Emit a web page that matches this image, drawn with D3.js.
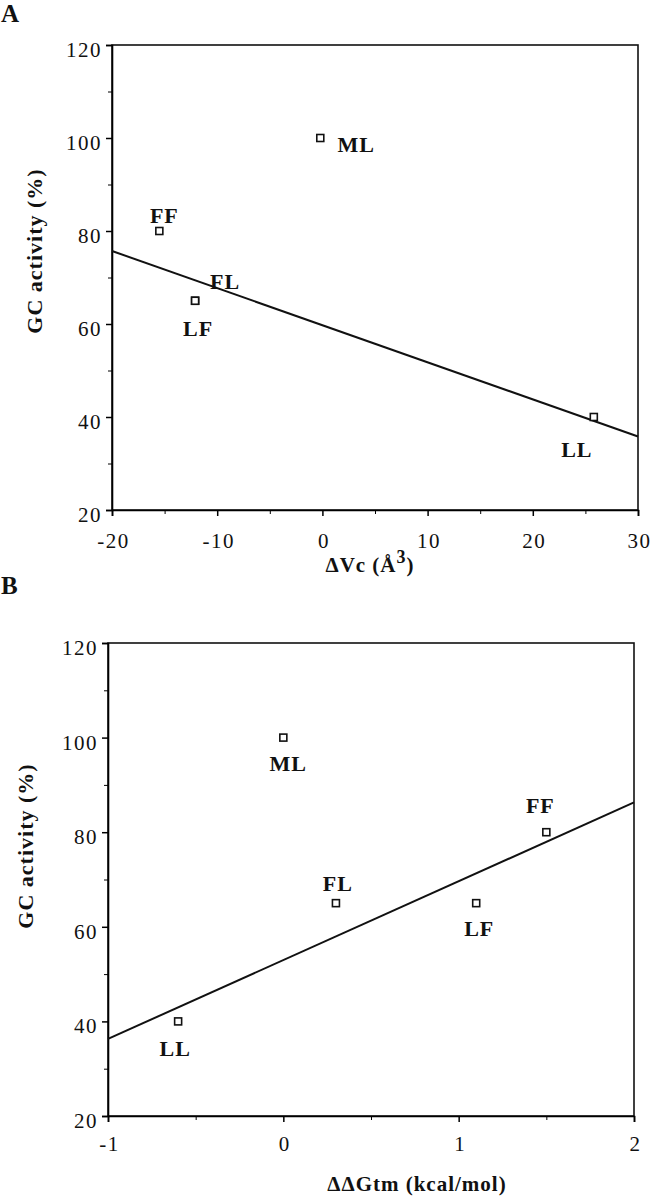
<!DOCTYPE html>
<html><head><meta charset="utf-8">
<script src="https://cdn.jsdelivr.net/npm/d3@7"></script>
<style>
html,body{margin:0;padding:0;background:#fff;}
svg{display:block;}
text{font-family:"Liberation Serif","Times New Roman",serif;fill:#111;}
</style></head>
<body>
<script>
// ---------- data ----------
const mutants = ["FF", "ML", "FL", "LF", "LL"];
const activity = [80, 100, 65, 65, 40];            // GC activity (%)
const deltaVc = [-15.5, -0.2, -12.1, -12.1, 25.8];  // ΔVc (Å^3)
const ddGtm = [1.5, 0.0, 0.3, 1.1, -0.6];           // ΔΔGtm (kcal/mol)
const fitA_x = [-20, 30];
const fitA_y = [75.7, 35.8];
const fitB_x = [-1, 2];
const fitB_y = [36.3, 86.3];
const yTicks = [20, 40, 60, 80, 100, 120];
const yMinor = [30, 50, 70, 90, 110];
const xTicksA = [-20, -10, 0, 10, 20, 30];
const xMinorA = [-15, -5, 5, 15, 25];
const xTicksB = [-1, 0, 1, 2];
const xMinorB = [-0.5, 0.5, 1.5];

// label placement (layout: px offsets of label centre/baseline from marker centre)
const labelOffA = {FF:[4,-8], ML:[35,14], FL:[29,-12], LF:[2,35], LL:[-18,40]};
const labelOffB = {FF:[-7,-19], ML:[4,33], FL:[1,-12], LF:[2,33], LL:[-4,35]};

const W = 655, H = 1199;
const svg = d3.select("body").append("svg").attr("width", W).attr("height", H);
const fmt = d => String(d);

function panel(cfg) {
  const g = svg.append("g");
  const x = d3.scaleLinear().domain(cfg.xDomain).range(cfg.xRange);
  const y = d3.scaleLinear().domain([20, 120]).range(cfg.yRange);
  const [x0, x1] = cfg.xRange, [y0, y1] = cfg.yRange;

  // frame
  g.append("rect").attr("x", x0).attr("y", y1).attr("width", x1 - x0).attr("height", y0 - y1)
    .attr("fill", "none").attr("stroke", "#111").attr("stroke-width", 1.6);

  // y axis
  const ya = g.append("g").attr("transform", `translate(${x0},0)`)
    .call(d3.axisLeft(y).tickValues(cfg.yTicks).tickSize(6).tickPadding(4).tickFormat(fmt));
  ya.select(".domain").attr("stroke-width", 1.6);
  ya.selectAll(".tick line").attr("stroke-width", 1.5);
  ya.selectAll("text").style("font-size", "21px").style("letter-spacing", "1.5px").attr("dy", "0.55em");
  g.append("g").attr("transform", `translate(${x0},0)`)
    .call(d3.axisLeft(y).tickValues(cfg.yMinor).tickSize(4).tickFormat(""))
    .call(s => s.select(".domain").remove());

  // x axis
  const xa = g.append("g").attr("transform", `translate(0,${y0})`)
    .call(d3.axisBottom(x).tickValues(cfg.xTicks).tickSize(6).tickFormat(fmt));
  xa.select(".domain").attr("stroke-width", 1.6);
  xa.selectAll(".tick line").attr("stroke-width", 1.5);
  xa.selectAll("text").style("font-size", "21px").style("letter-spacing", "1.5px")
    .attr("y", cfg.xLabelY).attr("dy", 0).attr("dx", 1);
  g.append("g").attr("transform", `translate(0,${y0})`)
    .call(d3.axisBottom(x).tickValues(cfg.xMinor).tickSize(4).tickFormat(""))
    .call(s => s.select(".domain").remove());

  // fit line
  g.append("line")
    .attr("x1", x(cfg.fitX[0])).attr("y1", y(cfg.fitY[0]))
    .attr("x2", x(cfg.fitX[1])).attr("y2", y(cfg.fitY[1]))
    .attr("stroke", "#111").attr("stroke-width", 2);

  // markers
  const pts = mutants.map((m, i) => ({m, xv: cfg.xs[i], yv: activity[i]}));
  g.selectAll("rect.pt").data(pts).enter().append("rect").attr("class", "pt")
    .attr("x", d => x(d.xv) - 3.5).attr("y", d => y(d.yv) - 3.5)
    .attr("width", 7).attr("height", 7)
    .attr("fill", "#fff").attr("stroke", "#111").attr("stroke-width", 1.6);

  g.selectAll("text.lab").data(pts).enter().append("text").attr("class", "lab")
    .attr("x", d => x(d.xv) + cfg.labelOff[d.m][0] + 1)
    .attr("y", d => y(d.yv) + cfg.labelOff[d.m][1])
    .attr("text-anchor", "middle").style("font-size", "22px").style("font-weight", "bold")
    .style("letter-spacing", "1px")
    .text(d => d.m);

  // y title
  g.append("text")
    .attr("transform", `translate(${cfg.yTitleX},${cfg.yTitleY}) rotate(-90)`)
    .attr("text-anchor", "middle").style("font-size", "22px").style("font-weight", "bold")
    .style("letter-spacing", "1px")
    .text("GC activity (%)");

  // panel letter
  g.append("text").attr("x", 1).attr("y", cfg.letterY)
    .style("font-size", "25px").style("font-weight", "bold").text(cfg.letter);
  return g;
}

const gA = panel({
  xDomain: [-20, 30], xRange: [112, 638], yRange: [510, 45],
  yTicks, yMinor, xTicks: xTicksA, xMinor: xMinorA, xLabelY: 38,
  fitX: fitA_x, fitY: fitA_y, xs: deltaVc, labelOff: labelOffA,
  yTitleX: 42, yTitleY: 251, letter: "A", letterY: 22
});
const tA = gA.append("text").attr("x", 370).attr("y", 572).attr("text-anchor", "middle")
  .style("font-size", "21px").style("font-weight", "bold").style("letter-spacing", "1px");
tA.append("tspan").text("ΔVc (Å");
tA.append("tspan").attr("dy", "-9").style("font-size", "18px").text("3");
tA.append("tspan").attr("dy", "9").text(")");

const gB = panel({
  xDomain: [-1, 2], xRange: [108, 634], yRange: [1116, 643],
  yTicks, yMinor, xTicks: xTicksB, xMinor: xMinorB, xLabelY: 35,
  fitX: fitB_x, fitY: fitB_y, xs: ddGtm, labelOff: labelOffB,
  yTitleX: 33, yTitleY: 846, letter: "B", letterY: 594
});
gB.append("text").attr("x", 417).attr("y", 1191).attr("text-anchor", "middle")
  .style("font-size", "21px").style("font-weight", "bold").style("letter-spacing", "1px")
  .text("ΔΔGtm (kcal/mol)");
</script>
</body></html>
